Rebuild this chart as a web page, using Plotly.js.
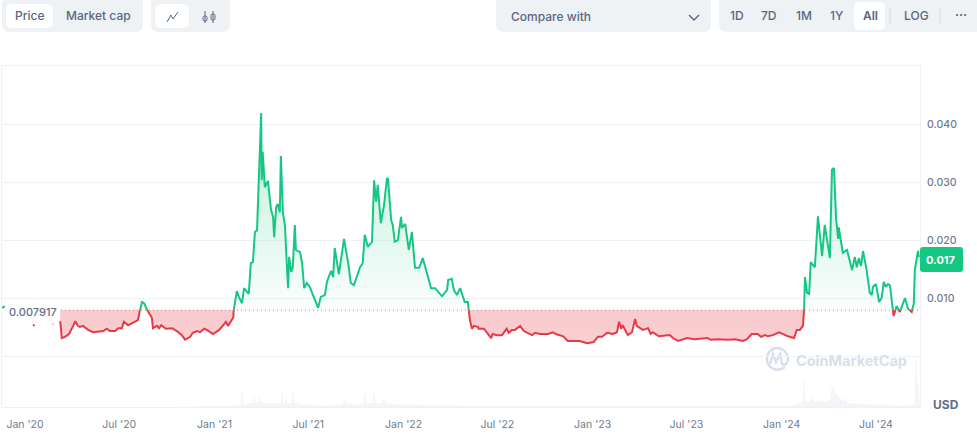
<!DOCTYPE html>
<html><head><meta charset="utf-8">
<script src="https://cdn.plot.ly/plotly-3.0.1.min.js"></script>
<style>html,body{margin:0;padding:0;background:#fff}#c{width:977px;height:438px}</style>
</head><body><div id="c"></div>
<script>
// Days since 2020-01-01 and price in USD
const priceDays = [68,71,77,85,93,97,102,106,112,118,122,131,145,151,158,164,174,180,187,191,199,208,218,222,226,230,236,241,245,247,255,259,263,272,284,293,303,309,319,324,332,338,346,351,363,375,382,388,392,402,403,409,413,419,423,429,432,436,440,444,448,456,457,459,463,469,475,479,481,485,488,492,494,498,502,506,508,510,514,517,521,523,531,535,539,544,550,556,566,571,579,583,591,595,598,606,616,624,629,635,647,652,656,662,670,674,678,681,687,693,699,701,707,710,714,720,726,728,734,741,747,753,761,768,774,784,792,805,815,817,824,828,834,840,849,855,859,863,867,875,876,886,894,900,903,911,921,930,934,940,946,956,963,979,985,994,1010,1019,1025,1039,1048,1071,1085,1098,1106,1114,1124,1135,1143,1147,1151,1154,1164,1172,1178,1181,1193,1203,1208,1212,1224,1245,1251,1261,1278,1293,1318,1324,1338,1357,1371,1386,1394,1403,1415,1421,1429,1434,1444,1456,1473,1485,1490,1496,1502,1504,1506,1510,1514,1517,1525,1531,1539,1544,1548,1554,1558,1562,1566,1570,1571,1579,1587,1597,1602,1606,1610,1614,1618,1625,1631,1635,1637,1643,1649,1654,1658,1662,1666,1670,1677,1683,1689,1699,1705,1712,1716,1718,1724,1726];
const priceUsd = [.0060,.0031,.0033,.0038,.0052,.0060,.0052,.0050,.0052,.0048,.0045,.0041,.0043,.0043,.0047,.0043,.0043,.0048,.0048,.0059,.0053,.0057,.0062,.0079,.0093,.0091,.0079,.0071,.0066,.0048,.0052,.0048,.0053,.0047,.0048,.0043,.0036,.0028,.0033,.0040,.0043,.0041,.0047,.0045,.0038,.0045,.0053,.0059,.0052,.0066,.0079,.0112,.0102,.0091,.0117,.0109,.0107,.0160,.0162,.0214,.0217,.0419,.0303,.0352,.0291,.0302,.0252,.0240,.0205,.0257,.0262,.0248,.0345,.0247,.0224,.0148,.0117,.0171,.0145,.0153,.0226,.0183,.0179,.0160,.0117,.0126,.0119,.0105,.0083,.0102,.0105,.0128,.0147,.0136,.0186,.0141,.0202,.0160,.0126,.0122,.0153,.0160,.0209,.0188,.0197,.0303,.0266,.0295,.0229,.0259,.0307,.0305,.0234,.0226,.0197,.0200,.0240,.0221,.0228,.0183,.0214,.0152,.0152,.0169,.0148,.0117,.0117,.0103,.0114,.0131,.0133,.0114,.0105,.0117,.0093,.0093,.0062,.0047,.0052,.0050,.0047,.0047,.0038,.0031,.0038,.0036,.0036,.0047,.0040,.0045,.0045,.0052,.0043,.0036,.0040,.0038,.0038,.0041,.0038,.0034,.0026,.0026,.0022,.0024,.0033,.0033,.0040,.0038,.0041,.0059,.0047,.0053,.0036,.0041,.0064,.0052,.0045,.0048,.0038,.0041,.0034,.0036,.0031,.0026,.0031,.0029,.0031,.0028,.0029,.0028,.0029,.0026,.0029,.0038,.0038,.0033,.0036,.0034,.0036,.0041,.0034,.0031,.0045,.0045,.0052,.0076,.0136,.0109,.0107,.0162,.0153,.0241,.0172,.0226,.0203,.0169,.0321,.0324,.0236,.0202,.0222,.0178,.0183,.0148,.0171,.0153,.0169,.0155,.0181,.0148,.0109,.0105,.0119,.0124,.0093,.0100,.0128,.0119,.0124,.0122,.0069,.0086,.0076,.0100,.0081,.0076,.0090,.0148,.0181,.0170];
// Short fragments before the continuous series
const earlyGreenDays = [-44,-39];
const earlyGreenUsd = [.0083,.0086];
const earlyRedDays = [15,19];
const earlyRedUsd = [.0053,.0053];
const earlyDotDays = [53,55];
const earlyDotUsd = [.0055,.0055];
const earlyFillDays = [8,15,25,35,45,54];
const earlyFillUsd = [.0066,.0056,.0062,.0064,.0060,.0058];
const baseline = 0.007917;
const lastPrice = '0.017';
// Volume (relative units)
const volumeDays = [300,405,417,419,421,430,440,442,444,450,452,454,470,480,494,496,498,502,504,506,515,517,519,540,580,614,616,618,640,654,656,658,672,674,676,691,693,695,730,860,1150,1480,1502,1504,1506,1515,1519,1523,1535,1545,1556,1558,1564,1572,1580,1585,1587,1612,1651,1689,1716,1718,1720,1722,1724,1726,1728];
const volumeVals = [0,1,2,15,2,3,4,11,4,4,11,5,3,3,4,14,3,3,9,3,3,15,4,2,1,2,8,3,2,3,14,4,3,14,4,3,10,3,2,1,1,1,4,27,5,5,10,5,6,5,7,21,14,9,5,8,3,3,2,1,2,4,47,15,25,10,6];
// Axis ticks
const xTickDays = [0,182,366,547,731,912,1096,1277,1461,1643];
const xTickText = ["Jan '20","Jul '20","Jan '21","Jul '21","Jan '22","Jul '22","Jan '23","Jul '23","Jan '24","Jul '24"];
const yTickVals = [0,0.01,0.02,0.03,0.04];
const yTickText = ['','0.010','0.020','0.030','0.040'];

const T0 = Date.UTC(2020,0,1), D = 864e5;
const toX = d => d===null ? null : T0 + d*D;

// insert crossing points so line and fill change colour exactly at the baseline
let xs=[], ys=[];
priceDays.forEach((d,i)=>{
  if(i>0){
    const a=priceUsd[i-1], b=priceUsd[i];
    if((a-baseline)*(b-baseline)<0){
      const t=(baseline-a)/(b-a);
      xs.push(priceDays[i-1]+t*(d-priceDays[i-1])); ys.push(baseline);
    }
  }
  xs.push(d); ys.push(priceUsd[i]);
});
const X=xs.map(toX);
const upLine=ys.map(v=>v>=baseline?v:null), downLine=ys.map(v=>v<=baseline?v:null);
const upFill=ys.map(v=>Math.max(v,baseline)), downFill=ys.map(v=>Math.min(v,baseline));
const GREEN='#16c784', RED='#e63b46';
const base=(c)=>({x:X,y:ys.map(()=>baseline),mode:'lines',line:{width:0,color:c},hoverinfo:'skip',showlegend:false});
const line=(x,y,c,w)=>({x:x,y:y,mode:'lines',line:{color:c,width:w||2,shape:'linear'},connectgaps:false,hoverinfo:'skip',showlegend:false});

const traces=[
 {x:volumeDays.map(toX),y:volumeVals,yaxis:'y2',mode:'lines',line:{width:0.5,color:'#f1f3f6'},fill:'tozeroy',fillcolor:'#f3f5f8',hoverinfo:'skip',showlegend:false},
 {x:earlyFillDays.map(toX),y:earlyFillUsd,mode:'lines',line:{width:0},hoverinfo:'skip',showlegend:false},
 {x:earlyFillDays.map(toX),y:earlyFillDays.map(()=>baseline),mode:'lines',line:{width:0},fill:'tonexty',fillcolor:'rgba(234,57,67,0.07)',hoverinfo:'skip',showlegend:false},
 base(GREEN),
 {x:X,y:upFill,mode:'lines',line:{width:0,color:GREEN},fill:'tonexty',
  fillgradient:{type:'vertical',start:baseline,stop:0.042,colorscale:[[0,'rgba(22,199,132,0.02)'],[1,'rgba(22,199,132,0.30)']]},hoverinfo:'skip',showlegend:false},
 base(RED),
 {x:X,y:downFill,mode:'lines',line:{width:0,color:RED},fill:'tonexty',
  fillgradient:{type:'vertical',start:0.002,stop:baseline,colorscale:[[0,'rgba(234,57,67,0.24)'],[1,'rgba(234,57,67,0.27)']]},hoverinfo:'skip',showlegend:false},
 line(X,upLine,GREEN),
 line(X,downLine,RED),
 line(earlyGreenDays.map(toX),earlyGreenUsd,GREEN),
 line(earlyRedDays.map(toX),earlyRedUsd,RED),
 line(earlyDotDays.map(toX),earlyDotUsd,RED,1)
];

// chrome drawn in page pixels, converted to paper coordinates
const L=2,R=920,TOP=66,B=407;
const px=x=>(x-L)/(R-L), py=y=>(B-y)/(B-TOP);
const path=(segs)=>segs.map(s=>s[0]+' '+s.slice(1).reduce((o,v,i)=>o.concat(i%2?py(v):px(v)),[]).join(' ')).join(' ');
const rr=(x0,y0,x1,y1,r)=>path([['M',x0+r,y0],['L',x1-r,y0],['Q',x1,y0,x1,y0+r],['L',x1,y1-r],['Q',x1,y1,x1-r,y1],['L',x0+r,y1],['Q',x0,y1,x0,y1-r],['L',x0,y0+r],['Q',x0,y0,x0+r,y0],['Z']]);
const fillShape=(p,c)=>({type:'path',xref:'paper',yref:'paper',path:p,fillcolor:c,line:{width:0},layer:'above'});
const strokeShape=(p,c,w,layer)=>({type:'path',xref:'paper',yref:'paper',path:p,line:{color:c,width:w||1},fillcolor:'rgba(0,0,0,0)',layer:layer||'above'});
const PANEL='#eff2f5',TXT='#58667e',WM='#d9dfe8',AXT='#6f7a8f';
const shapes=[
 fillShape(rr(2,-4,143,32,8),PANEL),fillShape(rr(6,4,53,28,6),'#fff'),
 fillShape(rr(151,-4,230,32,8),PANEL),fillShape(rr(155,4,189,28,6),'#fff'),
 fillShape(rr(496,-4,711,32,8),PANEL),
 fillShape(rr(719,-4,982,32,8),PANEL),fillShape(rr(854,2,885,30,6),'#fff'),
 strokeShape(path([['M',890,8],['L',890,24]]),'#d5dae3',1),
 strokeShape(path([['M',940,8],['L',940,24]]),'#d5dae3',1),
 // line icon
 strokeShape(path([['M',167,22],['L',171,15],['L',173,19],['L',178,12]]),TXT,1),
 // candle icon
 strokeShape(path([['M',205,11],['L',205,23],['M',213,11],['L',213,23]]),TXT,1),
 strokeShape(rr(203,16,207,21,1.5),TXT,1),
 strokeShape(rr(211,14,215,20,1.5),TXT,1),
 // chevron
 strokeShape(path([['M',689,15],['L',694,20],['L',699,15]]),TXT,1.4),
 // baseline
 {type:'line',xref:'paper',yref:'y',x0:px(61),x1:1,y0:baseline,y1:baseline,line:{color:'#8a93a5',width:1,dash:'1px,3px'},layer:'above'},
 // watermark logo
 strokeShape(path([['M',785,367],['C',777,373,767,368,767,359],['C',767,352,772,348,777,348],['C',783,348,788,353,788,359],['C',788,363,785,366,782,364],['L',780,354],['L',776,362],['L',773,354],['L',770,364]]),WM,2.4,'below'),
 // price tag
 fillShape(rr(920,247,963,272,3),GREEN)
];
const ann=(x,y,text,o)=>Object.assign({xref:'paper',yref:'paper',x:px(x),y:py(y),text:text,showarrow:false,xanchor:'center',yanchor:'middle',
  font:Object.assign({family:'Inter, sans-serif',size:12,color:TXT,weight:500},(o&&o.font)||{})},o&&o.a||{});
const annotations=[
 ann(30,16,'Price'),ann(98,16,'Market cap'),
 ann(509,17,'Compare with',{a:{xanchor:'left'}}),
 ann(737,16,'1D'),ann(769,16,'7D'),ann(804,16,'1M'),ann(837,16,'1Y'),ann(870,16,'All',{font:{weight:600}}),
 ann(916,16,'LOG'),ann(961,15,'···',{font:{weight:700}}),
 ann(33,312,baseline.toFixed(6),{font:{size:11,color:'#616e85'},a:{bgcolor:'rgba(255,255,255,0.85)',borderpad:1}}),
 ann(941,260,lastPrice,{font:{size:11,color:'#fff',weight:700}}),
 ann(946,404,'USD',{font:{size:12,weight:700,color:'#616e85'}}),
 ann(851,360,'CoinMarketCap',{font:{size:14.5,color:WM,weight:700}})
];
const layout={
 width:977,height:438,margin:{l:L,r:977-R,t:TOP,b:438-B,pad:0},
 paper_bgcolor:'#fff',plot_bgcolor:'#fff',showlegend:false,
 xaxis:{type:'date',range:[toX(-44.4),toX(1728)],tickmode:'array',tickvals:xTickDays.map(toX),ticktext:xTickText,
   showgrid:false,zeroline:false,showline:true,mirror:true,linecolor:'#eff2f5',linewidth:1,ticks:'outside',ticklen:7,tickcolor:'rgba(0,0,0,0)',
   tickfont:{family:'Inter, sans-serif',size:10.5,color:AXT}},
 yaxis:{range:[-0.00879,0.05],side:'right',tickmode:'array',tickvals:yTickVals,ticktext:yTickText,
   showgrid:true,gridcolor:'#eff2f5',gridwidth:1,zeroline:false,showline:true,mirror:true,linecolor:'#eff2f5',ticks:'outside',ticklen:4,tickcolor:'rgba(0,0,0,0)',
   tickfont:{family:'Inter, sans-serif',size:10.5,color:AXT,weight:500}},
 yaxis2:{overlaying:'y',range:[0,341],visible:false,fixedrange:true},
 shapes:shapes,annotations:annotations
};
Plotly.newPlot('c',traces,layout,{staticPlot:true,displayModeBar:false});
</script></body></html>
